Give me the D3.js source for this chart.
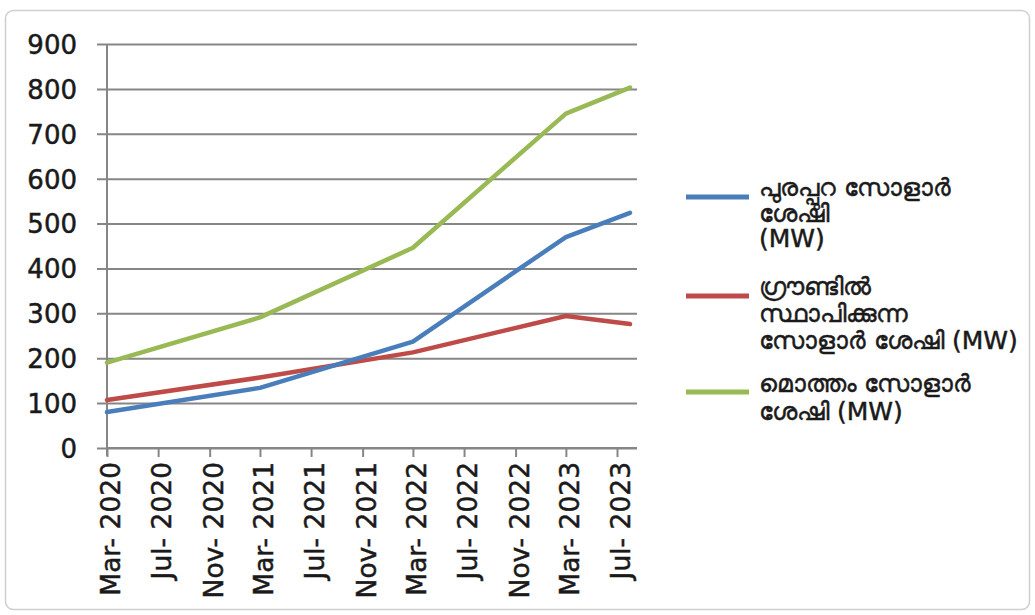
<!DOCTYPE html>
<html>
<head>
<meta charset="utf-8">
<script src="https://cdn.jsdelivr.net/npm/d3@7"></script>
<style>
  html, body { margin: 0; padding: 0; background: #fff; }
  svg { display: block; }
</style>
</head>
<body>
<svg id="chart" width="1035" height="615"></svg>
<script>
// ---- data ----
const dates = ["2020-03-01", "2021-03-01", "2022-03-01", "2023-03-01", "2023-08-01"];
const rooftop = [80, 134, 237, 470, 524];      // blue
const ground = [107, 157, 213, 294, 276];      // red
const total = [190, 291, 446, 745, 803];       // green
const yTicks = [0, 100, 200, 300, 400, 500, 600, 700, 800, 900];
const xTickDates = ["2020-03-01", "2020-07-01", "2020-11-01", "2021-03-01", "2021-07-01", "2021-11-01",
                    "2022-03-01", "2022-07-01", "2022-11-01", "2023-03-01", "2023-07-01"];
const xTickLabels = ["Mar- 2020", "Jul- 2020", "Nov- 2020", "Mar- 2021", "Jul- 2021", "Nov- 2021",
                     "Mar- 2022", "Jul- 2022", "Nov- 2022", "Mar- 2023", "Jul- 2023"];
const seriesNames = [
  ["പുരപ്പുറ സോളാർ", "ശേഷി", "(MW)"],
  ["ഗ്രൗണ്ടിൽ", "സ്ഥാപിക്കുന്ന", "സോളാർ ശേഷി (MW)"],
  ["മൊത്തം സോളാർ", "ശേഷി (MW)"]
];
const colors = ["#4A7EBB", "#BE4B48", "#98B954"];

// ---- layout ----
const svg = d3.select("#chart");
const parse = d3.timeParse("%Y-%m-%d");
const pLeft = 107, pRight = 637, pTop = 44, pBottom = 448;
const textColor = "#1a1a1a";

svg.append("rect").attr("x", 5.5).attr("y", 10.5).attr("width", 1024).attr("height", 599)
  .attr("rx", 8).attr("fill", "#fff").attr("stroke", "#cfcfcf").attr("stroke-width", 1.5);

const x = d3.scaleTime()
  .domain([parse("2020-03-01"), parse("2023-07-01")])
  .range([pLeft, 617]);
const y = d3.scaleLinear().domain([0, 900]).range([pBottom, pTop]);

// gridlines + y labels
const yAxis = d3.axisLeft(y).tickValues(yTicks).tickSize(-(pRight - pLeft)).tickFormat(d3.format("d"));
const gy = svg.append("g").attr("transform", `translate(${pLeft},0)`).call(yAxis);
gy.select(".domain").remove();
gy.selectAll(".tick line").attr("stroke", "#868686").attr("stroke-width", 2).attr("x1", -10);
gy.selectAll(".tick text").attr("fill", textColor)
  .attr("stroke", textColor).attr("stroke-width", 0.5)
  .style("font-family", "DejaVu Sans, sans-serif")
  .style("font-size", "26px").attr("x", -30).attr("dy", "0.36em");

// y axis line
svg.append("line").attr("x1", pLeft).attr("x2", pLeft).attr("y1", pTop).attr("y2", pBottom + 8)
  .attr("stroke", "#868686").attr("stroke-width", 2);

// x axis
const xAxis = d3.axisBottom(x)
  .tickValues(xTickDates.map(parse))
  .tickSize(9)
  .tickFormat((d, i) => xTickLabels[i]);
const gx = svg.append("g").attr("transform", `translate(0,${pBottom})`).call(xAxis);
gx.select(".domain").attr("stroke", "#868686").attr("stroke-width", 2)
  .attr("d", `M${pLeft},0H${pRight}`);
gx.selectAll(".tick line").attr("stroke", "#868686").attr("stroke-width", 2);
gx.selectAll(".tick text")
  .attr("fill", textColor)
  .attr("stroke", textColor).attr("stroke-width", 0.5)
  .style("font-family", "DejaVu Sans, sans-serif")
  .style("font-size", "26.5px")
  .attr("transform", "rotate(-90)")
  .attr("text-anchor", "end")
  .attr("x", -14)
  .attr("y", 0)
  .attr("dy", "0.47em");

// lines
const line = d3.line()
  .x((d) => x(d.date))
  .y((d) => y(d.v))
  .curve(d3.curveLinear);
const allSeries = [rooftop, ground, total];
const drawOrder = [2, 1, 0];
drawOrder.forEach((si) => {
  const vals = allSeries[si].map((v, i) => ({ date: parse(dates[i]), v }));
  svg.append("path").datum(vals).attr("d", line)
    .attr("fill", "none").attr("stroke", colors[si]).attr("stroke-width", 4.5)
    .attr("stroke-linejoin", "round").attr("stroke-linecap", "round");
});

// legend
const legendY = [197, 296, 392];
const legendTextBase = [[196, 222, 247], [295, 322, 349], [392, 420]];
seriesNames.forEach((lines, i) => {
  svg.append("line").attr("x1", 686).attr("x2", 749).attr("y1", legendY[i]).attr("y2", legendY[i])
    .attr("stroke", colors[i]).attr("stroke-width", 5);
  lines.forEach((t, j) => {
    svg.append("text").attr("x", 759).attr("y", legendTextBase[i][j])
      .attr("fill", textColor)
      .attr("stroke", textColor).attr("stroke-width", 0.5)
      .style("font-family", "DejaVu Sans, sans-serif")
      .style("font-size", "25px")
      .text(t);
  });
});
</script>
</body>
</html>
